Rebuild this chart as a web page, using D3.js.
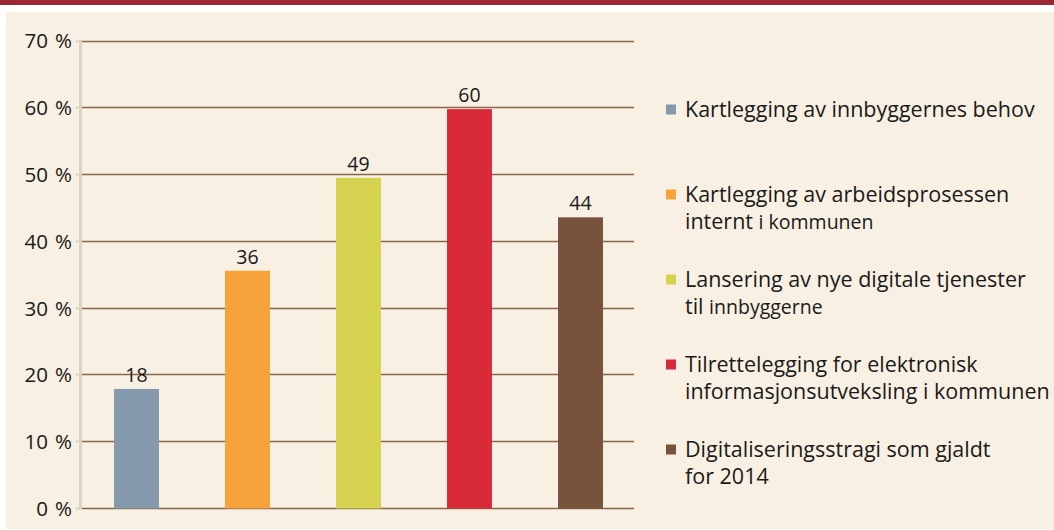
<!DOCTYPE html>
<html>
<head>
<meta charset="utf-8">
<script src="https://cdn.jsdelivr.net/npm/d3@7"></script>
<style>
  html, body { margin: 0; padding: 0; background: #ffffff; }
  svg { display: block; }
  text { font-family: "Open Sans", "Noto Sans", sans-serif; fill: #1a1a1a; }
</style>
</head>
<body>
<svg id="chart" width="1054" height="530"></svg>
<script>
// ---- data ----
const categories = [
  "Kartlegging av innbyggernes behov",
  "Kartlegging av arbeidsprosessen internt i kommunen",
  "Lansering av nye digitale tjenester til innbyggerne",
  "Tilrettelegging for elektronisk informasjonsutveksling i kommunen",
  "Digitaliseringsstragi som gjaldt for 2014"
];
const values = [17.9, 35.6, 49.5, 59.8, 43.6];
const valueLabels = ["18", "36", "49", "60", "44"];
const colors = ["#8599ac", "#f5a33a", "#d4d24f", "#d92a3a", "#76533a"];
const yTicks = [0, 10, 20, 30, 40, 50, 60, 70];
const yTickLabels = ["0", "10", "20", "30", "40", "50", "60", "70"];
// legend lines: [text, smaller]
const legendLines = [
  [[["Kartlegging av innbyggernes behov", false]]],
  [[["Kartlegging av arbeidsprosessen", false]], [["internt ", false], ["i kommunen", true]]],
  [[["Lansering av nye digitale tjenester", false]], [["til ", false], ["innbyggerne", true]]],
  [[["Tilrettelegging for elektronisk", false]], [["informasjonsutveksling i kommunen", false]]],
  [[["Digitaliseringsstragi som gjaldt", false]], [["for 2014", false]]]
];

const svg = d3.select("#chart");

// frame
svg.append("rect").attr("x", 0).attr("y", 0).attr("width", 1054).attr("height", 530).attr("fill", "#ffffff");
svg.append("rect").attr("x", 0).attr("y", 0).attr("width", 1054).attr("height", 5).attr("fill", "#9c2536");
svg.append("rect").attr("x", 6).attr("y", 12).attr("width", 1048).attr("height", 517).attr("fill", "#f8f0e2");

const plotLeft = 81, plotRight = 636, plotTop = 41, plotBottom = 508.5;

const x = d3.scaleBand()
  .domain(d3.range(values.length))
  .range([plotLeft, plotRight])
  .paddingInner(0.595)
  .paddingOuter(0.2975);

const y = d3.scaleLinear().domain([0, 70]).range([plotBottom, plotTop]);

// gridlines
svg.append("g").selectAll("line").data(yTicks).join("line")
  .attr("x1", 82).attr("x2", 634)
  .attr("y1", d => Math.floor(y(d)) + 0.5).attr("y2", d => Math.floor(y(d)) + 0.5)
  .attr("stroke", "#86654b").attr("stroke-width", 1.3);

// y axis line (light)
svg.append("line")
  .attr("x1", 80.5).attr("x2", 80.5)
  .attr("y1", y(70) - 1).attr("y2", y(0) + 1)
  .attr("stroke", "#ddd4bf").attr("stroke-width", 3);

// tick marks
svg.append("g").selectAll("line").data(yTicks).join("line")
  .attr("x1", 76).attr("x2", 80)
  .attr("y1", d => Math.floor(y(d)) + 0.5).attr("y2", d => Math.floor(y(d)) + 0.5)
  .attr("stroke", "#ddd4bf").attr("stroke-width", 2);

// tick labels
const tl = svg.append("g").selectAll("text").data(yTicks).join("text")
  .attr("x", 72).attr("y", d => y(d))
  .attr("dy", "0.36em")
  .attr("text-anchor", "end")
  .style("font-size", "20.5px");
tl.append("tspan").text((d, i) => yTickLabels[i]);
tl.append("tspan").attr("dx", 7).text("%");

// bars
svg.append("g").selectAll("rect").data(values).join("rect")
  .attr("x", (d, i) => x(i))
  .attr("width", x.bandwidth())
  .attr("y", d => y(d))
  .attr("height", d => y(0) - y(d))
  .attr("fill", (d, i) => colors[i]);

// value labels
svg.append("g").selectAll("text").data(values).join("text")
  .attr("x", (d, i) => x(i) + x.bandwidth() / 2)
  .attr("y", d => y(d) - 7)
  .attr("text-anchor", "middle")
  .style("font-size", "19.5px")
  .text((d, i) => valueLabels[i]);

// legend
const legendX = 666, legendY0 = 117, legendStep = 85, lineH = 26.7;
const lg = svg.append("g");
legendLines.forEach((lines, i) => {
  const by = legendY0 + i * legendStep;
  lg.append("rect").attr("x", legendX).attr("y", by - 12.5).attr("width", 10).attr("height", 10).attr("fill", colors[i]);
  lines.forEach((parts, j) => {
    const t = lg.append("text").attr("x", 685).attr("y", by + j * lineH).style("font-size", "21.5px");
    parts.forEach(p => {
      t.append("tspan").style("font-size", p[1] ? "19.5px" : "21.5px").text(p[0]);
    });
  });
});
</script>
</body>
</html>
